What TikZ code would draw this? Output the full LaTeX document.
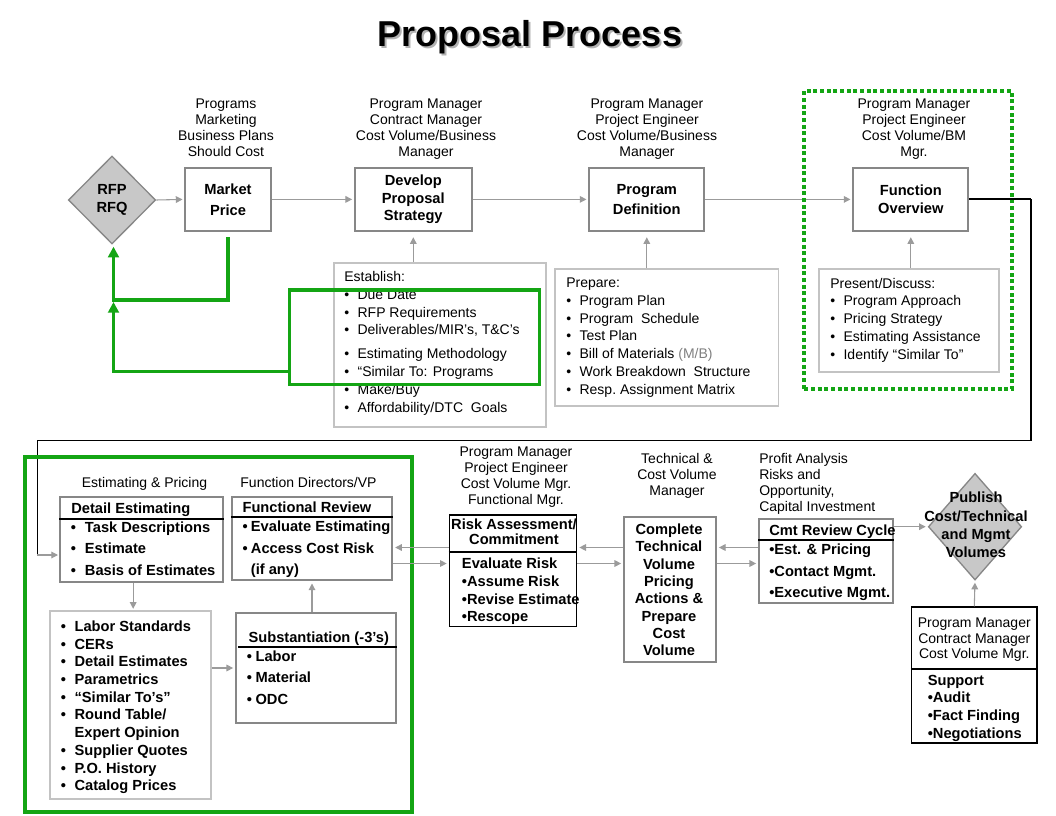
\documentclass[tikz,border=0pt]{standalone}
\usepackage{fontspec}
\setmainfont{Liberation Sans}
\usepackage{tikz}
\usetikzlibrary{shapes.geometric,arrows.meta}

\definecolor{boxgray}{RGB}{135,135,135}
\definecolor{lnkgray}{RGB}{155,155,155}
\definecolor{litegray}{RGB}{195,195,195}
\definecolor{gatefill}{RGB}{200,200,200}
\definecolor{prgreen}{RGB}{20,165,20}

\newcommand{\bul}[1][10pt]{\makebox[#1][l]{\textbullet}}

\begin{document}
\begin{tikzpicture}[x=0.75pt, y=-0.75pt]
    \tikzstyle{stepbox} = [rectangle, draw=boxgray, line width=1.3pt, inner sep=0pt]
    \tikzstyle{listbox} = [rectangle, draw=litegray, line width=1.3pt, inner sep=0pt]
    \tikzstyle{blkbox} = [rectangle, draw=black, line width=1pt, inner sep=0pt]
    \tikzstyle{gate} = [diamond, draw=boxgray, fill=gatefill, line width=1pt, inner sep=0pt]
    \tikzstyle{role} = [align=center, inner sep=0pt, font=\fontsize{10.5}{12}\selectfont]
    \tikzstyle{items} = [align=left, inner sep=0pt, anchor=north west, font=\fontsize{10.5}{13.35}\selectfont]
    \tikzstyle{bitems} = [align=left, inner sep=0pt, anchor=north west, font=\bfseries\fontsize{11}{16.2}\selectfont]
    \tikzstyle{boxhead} = [inner sep=0pt, anchor=base west, font=\bfseries\fontsize{11}{13}\selectfont]
    \tikzstyle{sepline} = [black, line width=1.5pt]
    \tikzstyle{flowarrow} = [lnkgray, line width=0.8pt, -{Triangle[length=5pt,width=5pt]}, shorten >=1.5pt]
    \tikzstyle{greenpath} = [prgreen, line width=2.6pt, -{Triangle[length=8pt,width=8pt]}, shorten >=1.5pt]
    \tikzstyle{greenbox} = [rectangle, draw=prgreen, line width=2.6pt, inner sep=0pt]
    \tikzstyle{greendots} = [rectangle, draw=prgreen, line width=3pt, dash pattern=on 3pt off 2pt, inner sep=0pt]

    \fill[white] (0,0) rectangle (1056,816);
    \useasboundingbox (0,0) rectangle (1056,816);

    % Title
    \node[font=\bfseries\fontsize{27}{30}\selectfont, text=black!30, anchor=base] (titleshade) at (532,48.5) {Proposal Process};
    \node[font=\bfseries\fontsize{27}{30}\selectfont, anchor=base] (title) at (530,46.5) {Proposal Process};

    % Roles above the steps
    \node[role, anchor=north] (mktrole) at (226,99) {Programs\\Marketing\\Business Plans\\Should Cost};
    \node[role, anchor=north] (dpsrole) at (426,99) {Program Manager\\Contract Manager\\Cost Volume/Business\\Manager};
    \node[role, anchor=north] (pdefrole) at (647,99) {Program Manager\\Project Engineer\\Cost Volume/Business\\Manager};
    \node[role, anchor=north] (fovrole) at (914,99) {Program Manager\\Project Engineer\\Cost Volume/BM\\Mgr.};

    % Top flow
    \node[gate, minimum width=65.5pt, minimum height=66pt, align=center, font=\bfseries\fontsize{11}{13.3}\selectfont] (rfp) at (112,200) {RFP\\RFQ};
    \node[stepbox, minimum width=64pt, minimum height=47.5pt, align=center, font=\bfseries\fontsize{11}{15.75}\selectfont] (mkt) at (228,199.4) {Market\\Price};
    \node[stepbox, minimum width=87.5pt, minimum height=47.5pt, align=center, font=\bfseries\fontsize{11}{13.1}\selectfont] (dps) at (413.3,199.4) {Develop\\Proposal\\Strategy};
    \node[stepbox, minimum width=86.25pt, minimum height=47.5pt, align=center, font=\bfseries\fontsize{11}{15.2}\selectfont] (pdef) at (646.8,199.4) {Program\\Definition};
    \node[stepbox, minimum width=86.25pt, minimum height=47.5pt, align=center, font=\bfseries\fontsize{11}{13.2}\selectfont] (fov) at (910.8,199.4) {Function\\Overview};

    % Inputs below the steps
    \node[listbox, minimum width=159pt, minimum height=123.5pt] (estab) at (440,345) {};
    \node[items] (estabtxt) at (344,271) {Establish:\\
        \bul Due Date\\ \bul RFP Requirements\\ \bul Deliverables/MIR’s, T\&C’s\\[4.5pt]
        \bul Estimating Methodology\\ \bul “Similar To: Programs\\ \bul Make/Buy\\ \bul Affordability/DTC\ \ Goals};
    \node[listbox, minimum width=167.5pt, minimum height=102.3pt] (prep) at (666.7,337.5) {};
    \node[items] (preptxt) at (566,277.7) {Prepare:\\
        \bul Program Plan\\ \bul Program\ \ Schedule\\ \bul Test Plan\\
        \bul Bill of Materials {\color{gray}(M/B)}\\ \bul Work Breakdown\ \ Structure\\ \bul Resp.\ Assignment Matrix};
    \node[listbox, minimum width=135.5pt, minimum height=77.25pt] (pres) at (909,320.8) {};
    \node[items] (prestxt) at (830,277.7) {Present/Discuss:\\
        \bul Program Approach\\ \bul Pricing Strategy\\ \bul Estimating Assistance\\ \bul Identify “Similar To”};

    \draw[flowarrow] (rfp.east) -- (mkt.west);
    \draw[flowarrow] (mkt.east) -- (dps.west);
    \draw[flowarrow] (dps.east) -- (pdef.west);
    \draw[flowarrow] (pdef.east) -- (fov.west);
    \draw[flowarrow, shorten >=4pt] (estab.north -| dps.south) -- (dps.south);
    \draw[flowarrow, shorten >=4pt] (prep.north -| pdef.south) -- (pdef.south);
    \draw[flowarrow, shorten >=4pt] (pres.north -| fov.south) -- (fov.south);

    % Green marks
    \node[greenbox, minimum width=187.5pt, minimum height=71pt] (grnest) at (414.3,337.3) {};
    \node[greendots, minimum width=155.5pt, minimum height=223.7pt] (grnfov) at (908,240.2) {};
    \coordinate (gjoin) at (113.5,300);
    \draw[greenpath] ([yshift=-4pt]mkt.south) |- (gjoin) -- (gjoin |- rfp.south);
    \draw[greenpath] (grnest.west |- 0,371.7) -| (gjoin);

    % Route down to estimating
    \coordinate (routeR) at (1031,440.3);
    \coordinate (routeL) at (37.3,555);
    \draw[black, line width=1.6pt] (fov.east) -- (fov.east -| routeR);
    \draw[black, line width=0.8pt] (fov.east -| routeR) -- (routeR) -| (routeL);
    \draw[flowarrow] (routeL) -- (routeL -| 60,0);

    % Estimating & pricing group
    \node[greenbox, line width=3pt, minimum width=290pt, minimum height=266.25pt] (grnbot) at (218.3,634.2) {};
    \node[role, anchor=base] (estrole) at (144.5,487.3) {Estimating \& Pricing};
    \node[role, anchor=base] (funrole) at (308.5,487.3) {Function Directors/VP};

    \node[stepbox, minimum width=122pt, minimum height=64pt] (detest) at (141.3,539.3) {};
    \node[boxhead] (detesthd) at (71,513) {Detail Estimating};
    \draw[sepline] (detest.west |- 0,518.7) -- (detest.east |- 0,518.7);
    \node[bitems] (detesttxt) at (70.7,521.4) {\bul[10.5pt]Task Descriptions\\ \bul[10.5pt]Estimate\\ \bul[10.5pt]Basis of Estimates};

    \node[stepbox, minimum width=120.5pt, minimum height=62.5pt] (funrev) at (312,538.3) {};
    \node[boxhead] (funrevhd) at (242.3,512) {Functional Review};
    \draw[sepline] (funrev.west |- 0,516.7) -- (funrev.east |- 0,516.7);
    \node[bitems] (funrevtxt) at (242.4,520.7) {\bul[6.2pt]Evaluate Estimating\\ \bul[6.2pt]Access Cost Risk\\ \hspace*{6.2pt}(if any)};

    \node[listbox, minimum width=120.75pt, minimum height=141pt] (list) at (130.5,705) {};
    \node[bitems, font=\bfseries\fontsize{11}{13.3}\selectfont] (listtxt) at (60.7,620.4) {\bul[10.2pt]Labor Standards\\ \bul[10.2pt]CERs\\ \bul[10.2pt]Detail Estimates\\
        \bul[10.2pt]Parametrics\\ \bul[10.2pt]“Similar To’s”\\ \bul[10.2pt]Round Table/\\ \hspace*{10.2pt}Expert Opinion\\
        \bul[10.2pt]Supplier Quotes\\ \bul[10.2pt]P.O. History\\ \bul[10.2pt]Catalog Prices};

    \node[stepbox, minimum width=120pt, minimum height=82pt] (subst) at (316,668) {};
    \node[boxhead] (substhd) at (248.3,642.3) {Substantiation (-3’s)};
    \draw[sepline] (238,647) -- (subst.east |- 0,647);
    \node[bitems, font=\bfseries\fontsize{11}{16}\selectfont] (substtxt) at (246.7,650.7) {\bul[6.45pt]Labor\\ \bul[6.45pt]Material\\ \bul[6.45pt]ODC};

    \draw[flowarrow, shorten >=1pt] ([xshift=2pt]list.north |- detest.south) -- ([xshift=2pt]list.north);
    \draw[flowarrow] (list.east |- subst.west) -- (subst.west);
    \draw[flowarrow, shorten >=2pt] (subst.north -| funrev.south) -- (funrev.south);

    % Review and commitment
    \node[role, anchor=north] (riskrole) at (516,446.7) {Program Manager\\Project Engineer\\Cost Volume Mgr.\\Functional Mgr.};
    \node[blkbox, minimum width=95.5pt, minimum height=83.8pt] (risk) at (513,570.8) {};
    \node[align=center, inner sep=0pt, font=\bfseries\fontsize{11}{11.25}\selectfont] (riskhd) at (514,531.6) {Risk Assessment/\\Commitment};
    \draw[sepline] (risk.west |- 0,552.3) -- (risk.east |- 0,552.3);
    \node[bitems, font=\bfseries\fontsize{11}{13.2}\selectfont] (risktxt) at (461.7,558) {Evaluate Risk\\ \textbullet Assume Risk\\ \textbullet Revise Estimate\\ \textbullet Rescope};

    \node[role, anchor=north] (cmplrole) at (677,453) {Technical \&\\Cost Volume\\Manager};
    \node[stepbox, minimum width=69pt, minimum height=108.3pt] (cmpl) at (670,589.5) {};
    \node[align=center, inner sep=0pt, font=\bfseries\fontsize{11}{13}\selectfont] (cmpltxt) at (669,590) {Complete\\Technical\\Volume\\Pricing\\Actions \&\\Prepare\\Cost\\Volume};

    \node[role, align=left, anchor=north west] (cmtrole) at (759,453) {Profit Analysis\\Risks and\\Opportunity,\\Capital Investment};
    \node[stepbox, minimum width=100.5pt, minimum height=63pt] (cmt) at (826,561) {};
    \node[boxhead] (cmthd) at (769,535.3) {Cmt Review Cycle};
    \draw[sepline] (cmt.west |- 0,540) -- (cmt.east |- 0,540);
    \node[bitems, font=\bfseries\fontsize{11}{16.1}\selectfont] (cmttxt) at (769,543.7) {\textbullet Est. \& Pricing\\ \textbullet Contact Mgmt.\\ \textbullet Executive Mgmt.};

    \node[gate, minimum width=70pt, minimum height=80pt] (publish) at (975,526.7) {};
    \node[align=center, inner sep=0pt, font=\bfseries\fontsize{11}{13.75}\selectfont] (publishtxt) at (976,525) {Publish\\Cost/Technical\\and Mgmt\\Volumes};

    \node[blkbox, minimum width=94pt, minimum height=101.8pt] (support) at (974.3,675) {};
    \node[role, font=\fontsize{10.5}{11.8}\selectfont, anchor=north] (supportrole) at (974.3,617.5) {Program Manager\\Contract Manager\\Cost Volume Mgr.};
    \draw[sepline] (support.west |- 0,669) -- (support.east |- 0,669);
    \node[bitems, font=\bfseries\fontsize{11}{13.2}\selectfont] (supporttxt) at (927.5,674.7) {Support\\ \textbullet Audit\\ \textbullet Fact Finding\\ \textbullet Negotiations};

    \draw[flowarrow] (funrev.east |- 0,563.5) -- (risk.west |- 0,563.5);
    \draw[flowarrow] (risk.west |- 0,547.5) -- (funrev.east |- 0,547.5);
    \draw[flowarrow] (risk.east |- 0,563.5) -- (cmpl.west |- 0,563.5);
    \draw[flowarrow] (cmpl.west |- 0,547.5) -- (risk.east |- 0,547.5);
    \draw[flowarrow] (cmpl.east |- 0,563.5) -- (cmt.west |- 0,563.5);
    \draw[flowarrow] (cmt.west |- 0,547.5) -- (cmpl.east |- 0,547.5);
    \draw[flowarrow] (cmt.east |- publish.west) -- (publish.west);
    \draw[flowarrow] (support.north) -- (publish.south);
\end{tikzpicture}
\end{document}
